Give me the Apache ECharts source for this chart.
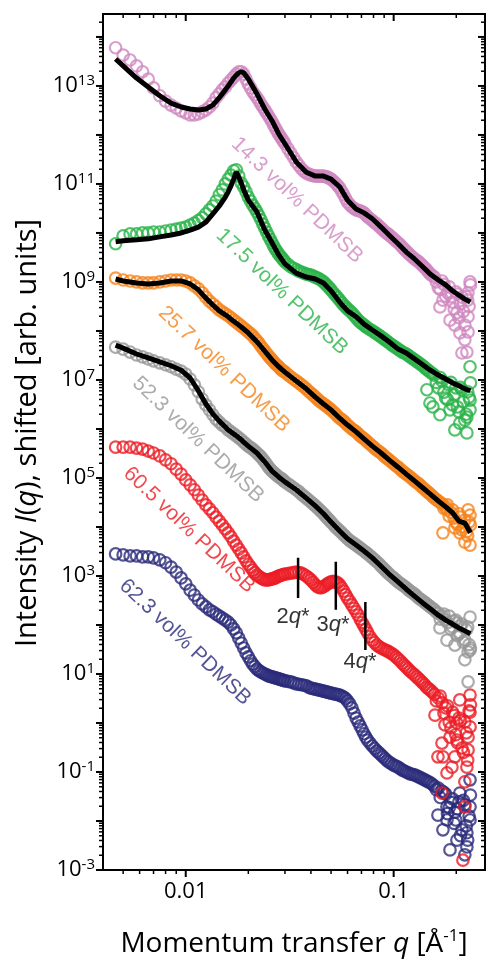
<!DOCTYPE html>
<html><head><meta charset="utf-8">
<script src="https://cdn.jsdelivr.net/npm/echarts@6/dist/echarts.min.js"></script>
<style>html,body{margin:0;padding:0;background:#fff}#c{width:487px;height:961px}</style>
</head><body><div id="c"></div>
<script>
// ---------- DATA (intensities stored as log10 of I(q)) ----------
const qGrid = [0.0046,0.005,0.0054,0.0058,0.0062,0.0066,0.007,0.0075,0.008,0.0085,0.009,0.0095,
0.010,0.0105,0.011,0.0115,0.012,0.0125,0.013,0.0135,0.014,0.0145,0.015,0.0155,0.016,0.0165,0.017,0.0175,0.018,0.0185,0.019,0.0195,0.020,
0.021,0.022,0.023,0.024,0.025,0.026,0.027,0.028,0.029,0.030,
0.032,0.034,0.036,0.038,0.040,0.042,0.044,0.046,0.048,0.050,
0.0525,0.055,0.0575,0.060,
0.063,0.066,0.069,0.072,0.075,
0.079,0.083,0.087,0.091,0.095,
0.100,0.105,0.110,0.115,0.120,
0.126,0.132,0.138,0.144,0.150,
0.157,0.164,0.171,0.178,0.185,0.192,0.199,0.206,0.213,0.220,0.227,0.234];

// additional measured q positions in the dense high-q range
const qMid = [0.0205,0.0215,0.0225,0.0235,0.0245,0.0255,0.0265,0.0275,0.0285,0.0295,
0.031,0.033,0.035,0.037,0.039,0.041,0.043,0.045,0.047,0.049,
0.05125,0.05375,0.05625,0.05875,
0.0615,0.0645,0.0675,0.0705,0.0735,
0.077,0.081,0.085,0.089,0.093,
0.0975,0.1025,0.1075,0.1125,0.1175,
0.123,0.129,0.135,0.141,0.147,
0.1535,0.1605,0.1675,0.1745,0.1815,0.1885,0.1955,0.2025,0.2095,0.2165,0.2235,0.2305];

const pinkLogI = [13.78,13.63,13.53,13.41,13.29,13.14,12.96,12.80,12.69,12.61,12.55,12.49,
12.45,12.41,12.41,12.43,12.47,12.51,12.57,12.65,12.76,12.84,12.92,12.98,13.06,13.12,13.18,13.24,13.29,13.29,13.24,13.14,13.04,
12.88,12.76,12.63,12.51,12.39,12.27,12.14,12.02,11.92,11.82,
11.63,11.45,11.31,11.22,11.18,11.16,11.16,11.16,11.14,11.10,
11.02,10.92,10.78,10.63,
10.53,10.47,10.45,10.41,10.33,
10.25,10.18,10.10,10.02,9.96,
9.88,9.80,9.71,9.63,9.55,
9.47,9.41,9.33,9.25,9.16,
9.10,8.88,9.02,8.71,8.90,8.59,8.80,8.27,8.69,8.12,8.63,8.94];
const pinkMidLogI = [12.96,12.82,12.70,12.57,12.45,12.33,12.20,12.08,11.97,11.87,
11.72,11.54,11.38,11.26,11.20,11.17,11.16,11.16,11.15,11.12,
11.06,10.97,10.85,10.70,
10.58,10.50,10.46,10.43,10.37,
10.29,10.21,10.14,10.06,9.99,
9.92,9.84,9.76,9.67,9.59,
9.51,9.44,9.37,9.29,9.20,
9.13,9.00,8.85,8.95,8.78,8.70,8.45,8.75,8.55,8.40,8.70,8.50];

const greenLogI = [9.78,9.94,9.98,9.98,10.00,10.00,10.02,10.02,10.04,10.06,10.08,10.10,
10.12,10.16,10.20,10.25,10.31,10.39,10.47,10.55,10.65,10.78,10.88,11.00,11.10,11.18,11.27,11.29,11.16,11.02,10.94,10.84,10.73,
10.57,10.43,10.27,10.10,9.94,9.80,9.67,9.57,9.49,9.41,
9.31,9.25,9.20,9.16,9.14,9.10,9.06,9.00,8.92,8.84,
8.73,8.63,8.53,8.45,
8.37,8.27,8.18,8.12,8.06,
8.00,7.94,7.88,7.82,7.76,
7.69,7.63,7.57,7.53,7.47,
7.41,7.35,7.29,7.22,7.16,
7.10,6.84,6.98,6.63,6.90,6.49,6.84,6.35,6.80,6.18,6.76,6.94];
const greenMidLogI = [10.65,10.50,10.35,10.18,10.02,9.87,9.73,9.62,9.53,9.45,
9.36,9.28,9.22,9.18,9.15,9.12,9.08,9.03,8.96,8.88,
8.78,8.68,8.58,8.49,
8.41,8.32,8.22,8.15,8.09,
8.03,7.97,7.91,7.85,7.79,
7.72,7.66,7.60,7.55,7.50,
7.44,7.38,7.32,7.25,7.19,
7.13,6.95,7.05,6.75,6.60,6.95,6.70,6.45,6.85,6.55,6.30,6.65];

const orangeLogI = [9.08,9.04,9.02,9.00,8.98,8.98,8.98,9.00,9.02,9.04,9.04,9.04,
9.02,8.98,8.92,8.86,8.78,8.69,8.61,8.55,8.49,8.43,8.39,8.35,8.31,8.27,8.22,8.18,8.14,8.10,8.06,8.02,7.98,
7.90,7.80,7.69,7.59,7.49,7.41,7.33,7.27,7.20,7.16,
7.06,6.98,6.90,6.82,6.73,6.65,6.57,6.51,6.45,6.39,
6.31,6.22,6.16,6.08,
6.00,5.94,5.86,5.80,5.73,
5.65,5.57,5.51,5.43,5.37,
5.29,5.22,5.14,5.08,5.02,
4.94,4.88,4.80,4.73,4.67,
4.59,4.53,4.47,4.41,4.22,4.35,4.10,4.27,3.94,4.14,3.82,4.04];
const orangeMidLogI = [7.94,7.85,7.75,7.64,7.54,7.45,7.37,7.30,7.23,7.18,
7.11,7.02,6.94,6.86,6.77,6.69,6.61,6.54,6.48,6.42,
6.35,6.26,6.19,6.12,
6.04,5.97,5.90,5.83,5.77,
5.69,5.61,5.54,5.47,5.40,
5.33,5.25,5.18,5.11,5.05,
4.98,4.91,4.84,4.77,4.70,
4.63,4.56,4.50,4.38,4.45,4.30,4.18,4.05,4.20,4.00,3.90,4.10];

const grayLogI = [7.67,7.63,7.57,7.51,7.47,7.43,7.39,7.35,7.31,7.27,7.22,7.18,
7.12,7.02,6.90,6.76,6.61,6.49,6.39,6.29,6.20,6.14,6.08,6.04,5.98,5.94,5.90,5.86,5.82,5.78,5.73,5.69,5.65,
5.59,5.51,5.43,5.33,5.22,5.14,5.08,5.02,4.98,4.92,
4.84,4.76,4.67,4.59,4.51,4.43,4.35,4.27,4.18,4.10,
4.00,3.92,3.84,3.76,
3.69,3.63,3.57,3.51,3.45,
3.37,3.29,3.20,3.12,3.04,
2.96,2.88,2.82,2.76,2.69,
2.63,2.55,2.49,2.43,2.37,
2.31,2.24,2.18,2.10,2.18,1.96,2.10,1.82,2.02,1.69,1.96,1.53];
const grayMidLogI = [5.62,5.55,5.47,5.38,5.28,5.18,5.11,5.05,5.00,4.95,
4.88,4.80,4.72,4.63,4.55,4.47,4.39,4.31,4.22,4.14,
4.05,3.96,3.88,3.80,
3.72,3.66,3.60,3.54,3.48,
3.41,3.33,3.25,3.16,3.08,
3.00,2.92,2.85,2.79,2.72,
2.66,2.59,2.52,2.46,2.40,
2.34,2.26,2.12,2.22,2.05,1.92,2.08,1.78,1.98,1.65,1.90,1.60];

const redLogI = [5.63,5.63,5.63,5.61,5.59,5.55,5.51,5.45,5.37,5.29,5.18,5.08,
4.96,4.86,4.76,4.65,4.55,4.45,4.37,4.29,4.20,4.12,4.04,3.96,3.88,3.80,3.71,3.63,3.55,3.47,3.39,3.31,3.24,
3.12,3.02,2.96,2.92,2.92,2.94,2.96,3.00,3.02,3.04,
3.06,3.08,3.06,3.00,2.92,2.82,2.76,2.78,2.84,2.88,
2.88,2.82,2.69,2.55,
2.41,2.27,2.12,1.98,1.84,
1.69,1.59,1.53,1.49,1.45,
1.39,1.31,1.22,1.14,1.06,
0.98,0.90,0.82,0.73,0.67,
0.59,0.51,0.41,0.31,0.02,0.22,-0.24,0.10,-0.51,0.02,-0.76,0.37];
const redMidLogI = [3.18,3.07,2.99,2.94,2.92,2.93,2.95,2.98,3.01,3.03,
3.05,3.07,3.07,3.03,2.96,2.87,2.78,2.76,2.81,2.86,
2.89,2.86,2.76,2.62,
2.48,2.34,2.20,2.05,1.91,
1.76,1.64,1.56,1.51,1.47,
1.42,1.35,1.27,1.18,1.10,
1.02,0.94,0.86,0.78,0.70,
0.63,0.45,0.55,0.20,0.35,-0.10,0.15,-0.40,0.05,-0.60,-0.20,0.25];

const navyLogI = [3.45,3.43,3.41,3.41,3.39,3.39,3.37,3.33,3.27,3.18,3.08,2.96,
2.84,2.71,2.61,2.51,2.43,2.37,2.31,2.27,2.22,2.18,2.14,2.10,2.06,2.00,1.92,1.84,1.73,1.63,1.53,1.43,1.35,
1.20,1.10,1.04,1.00,0.96,0.94,0.92,0.90,0.88,0.86,
0.84,0.80,0.78,0.76,0.71,0.69,0.67,0.65,0.63,0.61,
0.59,0.57,0.53,0.45,
0.31,0.10,-0.06,-0.22,-0.35,
-0.47,-0.57,-0.65,-0.73,-0.80,
-0.86,-0.90,-0.96,-1.00,-1.04,
-1.06,-1.10,-1.14,-1.18,-1.22,
-1.29,-1.33,-1.39,-1.45,-1.73,-1.55,-1.98,-1.61,-2.18,-1.67,-2.39,-1.47];
const navyMidLogI = [1.27,1.15,1.07,1.02,0.98,0.95,0.93,0.91,0.89,0.87,
0.85,0.82,0.79,0.77,0.73,0.70,0.68,0.66,0.64,0.62,
0.60,0.58,0.55,0.50,
0.39,0.20,0.02,-0.14,-0.29,
-0.41,-0.52,-0.61,-0.69,-0.77,
-0.83,-0.88,-0.93,-0.98,-1.02,
-1.05,-1.08,-1.12,-1.16,-1.20,
-1.25,-1.36,-1.52,-1.42,-1.85,-1.62,-2.05,-1.75,-2.30,-1.58,-2.10,-1.90];

// extra scattered high-q points [q, log10 I]
const pinkNoise = [[0.2277,8.78],[0.228,8.29],[0.228,7.98],[0.225,7.57],[0.213,7.55],[0.2083,7.96],[0.2015,8.37],[0.167,8.49],[0.1866,8.22],[0.233,9.00],[0.220,7.82],[0.1726,8.63],[0.197,8.12]];
const greenNoise = [[0.233,7.27],[0.233,6.59],[0.225,6.24],[0.225,5.92],[0.208,6.12],[0.1545,6.45],[0.1445,6.80],[0.1866,6.39],[0.1495,6.53],[0.197,5.98],[0.167,6.29],[0.233,6.39]];
const orangeNoise = [[0.228,4.35],[0.233,3.63],[0.208,3.88],[0.1726,3.88],[0.1805,4.35],[0.233,4.24],[0.197,3.98],[0.220,3.69]];
const grayNoise = [[0.233,2.16],[0.233,1.49],[0.208,1.84],[0.2015,2.04],[0.1805,1.69],[0.228,0.84],[0.228,1.45],[0.197,1.59],[0.167,1.94],[0.220,1.29]];
const redNoise = [[0.233,0.22],[0.233,-0.08],[0.228,-0.29],[0.228,-0.55],[0.225,-0.90],[0.220,-1.20],[0.2015,0.00],[0.2015,-0.35],[0.197,-0.69],[0.1907,-0.90],[0.1805,-1.02],[0.1726,-0.69],[0.1708,-0.41],[0.1633,-0.69],[0.1866,-0.29],[0.1708,-1.43],[0.220,-1.71],[0.2153,-2.80],[0.208,0.47],[0.1765,-0.04],[0.158,0.16],[0.233,0.57]];
const navyNoise = [[0.233,-1.16],[0.233,-1.71],[0.233,-1.98],[0.225,-2.24],[0.225,-2.53],[0.1805,-1.98],[0.1726,-2.18],[0.1866,-2.59],[0.2015,-2.39],[0.208,-1.43],[0.1805,-1.71],[0.1633,-1.88],[0.197,-1.82],[0.220,-2.69]];

// model fits
const fitQ = [0.0046,0.005,0.0058,0.0066,0.0075,0.0085,0.0095,0.0105,0.0115,0.0125,0.0135,0.0145,0.0155,0.016,0.0165,0.017,0.0175,0.018,0.0185,0.019,0.020,0.022,0.024,0.026,0.028,0.030,0.034,0.038,0.042,0.046,0.050,0.055,0.060,0.066,0.072,0.079,0.087,0.095,0.105,0.115,0.126,0.138,0.150,0.164,0.178,0.192,0.206,0.220,0.234];
const pinkFitLogI = [13.55,13.41,13.16,12.98,12.80,12.65,12.57,12.53,12.51,12.53,12.61,12.76,12.92,13.00,13.08,13.16,13.22,13.27,13.29,13.27,13.14,12.84,12.53,12.29,12.02,11.82,11.45,11.24,11.16,11.16,11.10,10.94,10.67,10.49,10.41,10.29,10.12,9.96,9.78,9.61,9.47,9.31,9.16,9.04,8.94,8.82,8.73,8.65,8.59];
const greenFitLogI = [9.82,9.84,9.86,9.88,9.92,9.96,10.00,10.06,10.12,10.22,10.39,10.55,10.73,10.84,10.96,11.10,11.24,11.14,11.02,10.88,10.67,10.43,10.06,9.80,9.55,9.37,9.18,9.10,9.06,8.98,8.82,8.59,8.41,8.29,8.14,8.02,7.90,7.78,7.63,7.55,7.43,7.31,7.20,7.10,7.02,6.94,6.88,6.82,6.78];
const orangeFitLogI = [9.06,9.02,8.98,8.96,8.98,9.02,9.02,8.96,8.84,8.67,8.53,8.41,8.33,8.29,8.24,8.20,8.16,8.12,8.08,8.04,7.96,7.78,7.59,7.41,7.27,7.16,6.98,6.82,6.65,6.51,6.39,6.22,6.08,5.94,5.80,5.65,5.51,5.37,5.22,5.08,4.94,4.80,4.67,4.53,4.41,4.29,4.12,4.08,3.88];
const grayFitLogI = [7.71,7.65,7.53,7.45,7.37,7.29,7.20,7.04,6.78,6.51,6.31,6.16,6.04,5.98,5.94,5.90,5.86,5.82,5.78,5.73,5.65,5.51,5.33,5.14,5.02,4.92,4.76,4.59,4.43,4.27,4.10,3.92,3.76,3.63,3.51,3.37,3.20,3.04,2.88,2.73,2.59,2.45,2.33,2.20,2.10,2.02,1.94,1.88,1.82];

// Bragg-peak markers on the 60.5 vol% curve
const markerText = ['2', '3', '4'];
const markerQ = [0.0347, 0.0527, 0.0731];
const markerLoLogI = [2.55, 2.31, 1.49];
const markerHiLogI = [3.37, 3.29, 2.47];
const markerLabelQ = [0.0328, 0.0511, 0.0689];
const markerLabelLogI = [2.16, 2.00, 1.245];

// curve labels
const curveLabels = ['14.3 vol% PDMSB','17.5 vol% PDMSB','25.7 vol% PDMSB','52.3 vol% PDMSB','60.5 vol% PDMSB','62.3 vol% PDMSB'];
const curveLabelQ = [0.0343, 0.0290, 0.01528, 0.01146, 0.01038, 0.00993];
const curveLabelLogI = [10.67, 8.80, 7.22, 5.78, 3.94, 1.65];

// axes
const X_MIN = 0.004, X_MAX = 0.275;
const Y_MIN = 1e-3, Y_MAX = 2.94e14;
const xTickValues = [0.01, 0.1];
const xTickLabels = ['0.01', '0.1'];
const yLabelExponents = [-3, -1, 1, 3, 5, 7, 9, 11, 13];

// ---------- STYLE ----------
const C = { pink:'#d087bf', green:'#2ab348', orange:'#f5831c', gray:'#979797', red:'#ec1c24', navy:'#2a2b7b' };
const labelColors = [C.pink, C.green, C.orange, C.gray, C.red, C.navy];

const p10 = v => Math.pow(10, v);
const toPts = (qs, logs) => qs.map((q, i) => [q, p10(logs[i])]);
const noisePts = arr => arr.map(p => [p[0], p10(p[1])]);

function scatterSeries(name, color, logs, midLogs, noise) {
  const pts = toPts(qGrid, logs).concat(toPts(qMid, midLogs)).sort((a, b) => a[0] - b[0]);
  return { name, type:'scatter', symbol:'circle', symbolSize:11.5, silent:true, large:false,
    itemStyle:{ color:'rgba(255,255,255,0)', borderColor:color, borderWidth:2.2 },
    data: pts.concat(noisePts(noise)) };
}
function fitSeries(logs) {
  return { type:'line', symbol:'none', silent:true, data: toPts(fitQ, logs),
    lineStyle:{ color:'#000', width:5 } };
}

// tick lists (major each decade, minor 2..9)
const yMajor = [], yMinor = [];
for (let e = -3; e <= 14; e++) {
  yMajor.push(p10(e));
  for (let k = 2; k <= 9; k++) { const v = k * p10(e); if (v < Y_MAX) yMinor.push(v); }
}
const xMajor = [0.01, 0.1], xMinor = [];
for (let e = -3; e <= -1; e++) for (let k = 2; k <= 9; k++) { const v = k * p10(e); if (v > X_MIN && v < X_MAX) xMinor.push(v); }

const tickData = []
  .concat(yMajor.map(v => [X_MIN, v, 1, 0]))
  .concat(yMinor.map(v => [X_MIN, v, 0, 0]))
  .concat(xMajor.map(v => [v, Y_MIN, 1, 1]))
  .concat(xMinor.map(v => [v, Y_MIN, 0, 1]));

const tickSeries = {
  type:'custom', silent:true, clip:false, z:20, data: tickData,
  renderItem: (params, api) => {
    const major = api.value(2), isX = api.value(3);
    const len = major ? 7 : 4, lw = major ? 2 : 1.5;
    const st = { stroke:'#000', lineWidth: lw };
    if (isX) {
      const v = api.value(0);
      const a = api.coord([v, Y_MIN]), b = api.coord([v, Y_MAX]);
      return { type:'group', children:[
        { type:'line', shape:{ x1:a[0], y1:a[1], x2:a[0], y2:a[1] + len }, style: st },
        { type:'line', shape:{ x1:b[0], y1:b[1], x2:b[0], y2:b[1] + len }, style: st } ] };
    } else {
      const v = api.value(1);
      const a = api.coord([X_MIN, v]), b = api.coord([X_MAX, v]);
      return { type:'group', children:[
        { type:'line', shape:{ x1:a[0] - len, y1:a[1], x2:a[0], y2:a[1] }, style: st },
        { type:'line', shape:{ x1:b[0] - len, y1:b[1], x2:b[0], y2:b[1] }, style: st } ] };
    }
  }
};

const markerSeries = markerQ.map((q, i) => ({
  type:'line', symbol:'none', silent:true, z:6,
  data: [[q, p10(markerLoLogI[i])], [q, p10(markerHiLogI[i])]],
  lineStyle:{ color:'#000', width:2.5 }
}));

const markerLabelSeries = {
  type:'scatter', symbolSize:1, silent:true, z:7, itemStyle:{ color:'rgba(0,0,0,0)' },
  data: markerLabelQ.map((q, i) => ({ value:[q, p10(markerLabelLogI[i])], name: markerText[i] })),
  label:{ show:true, position:'inside', align:'center', verticalAlign:'middle', color:'#000',
    formatter: p => '{n|' + p.name + '}{i|q}{n|*}',
    rich:{ n:{ fontFamily:'Liberation Sans', fontSize:22, color:'#000' },
           i:{ fontFamily:'Liberation Sans', fontSize:22, color:'#000', fontStyle:'italic' } } }
};

const curveLabelSeries = {
  type:'scatter', symbolSize:1, silent:true, z:7, itemStyle:{ color:'rgba(0,0,0,0)' },
  data: curveLabelQ.map((q, i) => ({ value:[q, p10(curveLabelLogI[i])], name: curveLabels[i],
    label:{ color: labelColors[i] } })),
  label:{ show:true, position:'inside', align:'center', verticalAlign:'middle', rotate:-43.5,
    fontFamily:'Liberation Sans', fontSize:21, formatter: p => p.name }
};

const option = {
  animation:false,
  backgroundColor:'#fff',
  grid:{ left:103, right:2, top:14, bottom:91, show:true, borderColor:'#000', borderWidth:2,
         containLabel:false, outerBoundsMode:'none' },
  xAxis:{
    type:'log', logBase:10, min:X_MIN, max:X_MAX,
    axisLine:{ show:false }, axisTick:{ show:false }, splitLine:{ show:false }, minorTick:{ show:false },
    axisLabel:{ margin:11, fontFamily:'Open Sans', fontSize:22, color:'#000',
      formatter: v => { for (let i = 0; i < xTickValues.length; i++) if (Math.abs(Math.log10(v) - Math.log10(xTickValues[i])) < 1e-6) return xTickLabels[i]; return ''; } },
    name:'Momentum transfer {i|q} [Å{sup|-1}]', nameLocation:'middle', nameGap:58,
    nameTextStyle:{ fontFamily:'Open Sans', fontSize:28, color:'#000',
      rich:{ i:{ fontFamily:'Open Sans', fontSize:28, fontStyle:'italic', color:'#000' },
             sup:{ fontFamily:'Open Sans', fontSize:17, color:'#000', padding:[0,0,16,0] } } }
  },
  yAxis:{
    type:'log', logBase:10, min:Y_MIN, max:Y_MAX, interval:1,
    axisLine:{ show:false }, axisTick:{ show:false }, splitLine:{ show:false }, minorTick:{ show:false },
    axisLabel:{ margin:8, fontFamily:'Open Sans', fontSize:22, color:'#000',
      formatter: v => { const l = Math.log10(v), e = Math.round(l);
        if (Math.abs(l - e) > 1e-6 || yLabelExponents.indexOf(e) < 0) return '';
        return '10{sup|' + e + '}'; },
      rich:{ sup:{ fontFamily:'Open Sans', fontSize:15, color:'#000', padding:[0,0,11,0] } } },
    name:'Intensity {i|I}({i|q}), shifted [arb. units]', nameLocation:'middle', nameRotate:90, nameGap:58,
    nameTextStyle:{ fontFamily:'Open Sans', fontSize:29, color:'#000', padding:[0,0,0,18],
      rich:{ i:{ fontFamily:'Open Sans', fontSize:29, fontStyle:'italic', color:'#000' } } }
  },
  series: [
    scatterSeries('62.3', C.navy, navyLogI, navyMidLogI, navyNoise),
    scatterSeries('60.5', C.red, redLogI, redMidLogI, redNoise),
    scatterSeries('52.3', C.gray, grayLogI, grayMidLogI, grayNoise),
    fitSeries(grayFitLogI),
    scatterSeries('25.7', C.orange, orangeLogI, orangeMidLogI, orangeNoise),
    fitSeries(orangeFitLogI),
    scatterSeries('17.5', C.green, greenLogI, greenMidLogI, greenNoise),
    fitSeries(greenFitLogI),
    scatterSeries('14.3', C.pink, pinkLogI, pinkMidLogI, pinkNoise),
    fitSeries(pinkFitLogI),
    ...markerSeries,
    markerLabelSeries,
    curveLabelSeries,
    tickSeries
  ]
};

const chart = echarts.init(document.getElementById('c'), null, { renderer:'canvas' });
chart.setOption(option);
</script>
</body></html>
